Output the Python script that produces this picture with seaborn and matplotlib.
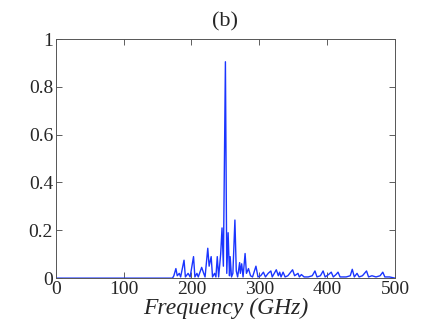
import numpy as np
import pandas as pd
import seaborn as sns
import matplotlib
matplotlib.use("Agg")
import matplotlib.pyplot as plt

# spectrum: frequency (GHz) and normalised amplitude
freq = [0, 172, 174, 177, 179, 182, 184, 189, 191, 195, 198, 203, 205, 208, 210,
        215, 218, 220, 224, 226, 229, 231, 234, 236, 238, 240, 243, 245, 247, 250,
        252, 254, 255, 256, 257, 259, 261, 264, 266, 268, 271, 272, 274, 276, 279,
        281, 284, 287, 290, 295, 298, 302, 306, 309, 313, 317, 319, 322, 325, 328,
        330, 332, 335, 338, 342, 349, 352, 357, 359, 362, 366, 372, 378, 382, 385,
        390, 394, 397, 402, 406, 409, 413, 416, 419, 428, 434, 437, 440, 444, 447,
        452, 458, 461, 466, 472, 478, 482, 485, 492, 500]
amp = [0, 0, 0.01, 0.04, 0.01, 0.02, 0.005, 0.075, 0.005, 0.02, 0.005, 0.09, 0.005, 0.02, 0.005,
       0.045, 0.02, 0.005, 0.125, 0.05, 0.09, 0.005, 0.02, 0.005, 0.09, 0.005, 0.1, 0.21, 0.05, 0.905,
       0.02, 0.19, 0.1, 0.01, 0.09, 0.005, 0.02, 0.243, 0.03, 0.005, 0.065, 0.02, 0.06, 0.005, 0.103,
       0.02, 0.04, 0.01, 0.005, 0.05, 0.005, 0.01, 0.025, 0.005, 0.02, 0.03, 0.005, 0.02, 0.035, 0.01,
       0.025, 0.005, 0.025, 0.005, 0.01, 0.035, 0.01, 0.02, 0.005, 0.015, 0.005, 0.005, 0.01, 0.03, 0.005,
       0.01, 0.03, 0.005, 0.015, 0.025, 0.005, 0.015, 0.025, 0.005, 0.005, 0.01, 0.037, 0.005, 0.02, 0.005,
       0.01, 0.03, 0.005, 0.01, 0.005, 0.01, 0.025, 0.005, 0.005, 0.0]

xticks = [0, 100, 200, 300, 400, 500]
yticks = [0, 0.2, 0.4, 0.6, 0.8, 1]
yticklabels = ["0", "0.2", "0.4", "0.6", "0.8", "1"]

df = pd.DataFrame({"Frequency": freq, "Amplitude": amp})

sns.set_style("ticks")
plt.rcParams["font.family"] = ["Liberation Serif", "DejaVu Serif"]

fig = plt.figure(figsize=(4.36, 3.28), dpi=100)
ax = fig.add_axes([0.128, 0.152, 0.778, 0.729])

sns.lineplot(data=df, x="Frequency", y="Amplitude", ax=ax, color="#1a35ff",
             lw=1.0, sort=False, estimator=None)

ax.set_xlim(0, 500)
ax.set_ylim(0, 1)
ax.set_xticks(xticks)
ax.set_yticks(yticks)
ax.set_yticklabels(yticklabels)
ax.tick_params(direction="in", top=True, right=True, length=4, width=0.6,
               labelsize=14, color="#444444", pad=2)
for s in ax.spines.values():
    s.set_visible(True)
    s.set_linewidth(0.7)
    s.set_color("#555555")

ax.set_xlabel("Frequency (GHz)", fontsize=17, style="italic", labelpad=0)
ax.set_ylabel("")
ax.set_title("(b)", fontsize=16, pad=9)

fig.savefig("out.png", dpi=100)
